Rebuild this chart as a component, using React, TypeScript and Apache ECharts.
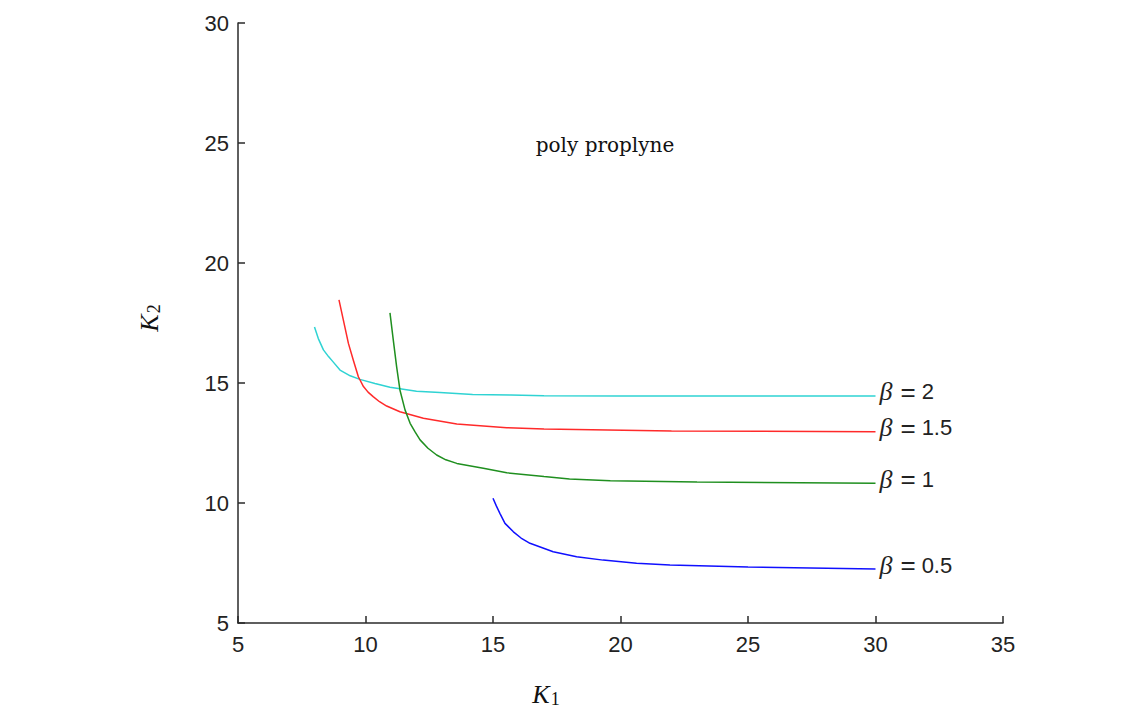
import React, { useEffect, useRef } from "react";
import * as echarts from "echarts";

const xTicks = [5, 10, 15, 20, 25, 30, 35];
const yTicks = [5, 10, 15, 20, 25, 30];

const betaLabels = ["2", "1.5", "1", "0.5"];
const seriesColors = ["#2fd3d3", "#ff2a2a", "#1f8f1f", "#1010ff"];

const k1Beta2 = [8, 8.15, 8.35, 8.55, 8.73, 9.0, 9.4, 9.78, 10.37, 10.96, 12.0, 12.92, 14.2, 15.7, 17.0, 20, 25, 30];
const k2Beta2 = [17.33, 16.85, 16.38, 16.1, 15.88, 15.54, 15.3, 15.15, 14.98, 14.82, 14.66, 14.6, 14.52, 14.5, 14.47, 14.46, 14.46, 14.46];

const k1Beta15 = [8.96, 9.13, 9.33, 9.52, 9.72, 9.92, 10.1, 10.3, 10.55, 10.83, 11.35, 12.27, 13.58, 15.54, 17.0, 22.0, 30];
const k2Beta15 = [18.46, 17.63, 16.65, 15.96, 15.26, 14.85, 14.62, 14.43, 14.22, 14.04, 13.8, 13.53, 13.29, 13.14, 13.08, 13.0, 12.97];

const k1Beta1 = [10.96, 11.09, 11.22, 11.35, 11.55, 11.75, 11.95, 12.14, 12.45, 12.79, 13.15, 13.58, 14.62, 15.54, 17.0, 18.0, 19.6, 23.0, 30];
const k2Beta1 = [17.92, 16.79, 15.68, 14.71, 13.88, 13.32, 12.95, 12.63, 12.28, 12.0, 11.8, 11.65, 11.45, 11.26, 11.1, 11.0, 10.93, 10.87, 10.82];

const k1Beta05 = [15.0, 15.13, 15.27, 15.47, 15.8, 16.1, 16.45, 17.36, 18.28, 19.32, 20.63, 21.94, 25, 30];
const k2Beta05 = [10.2, 9.88, 9.57, 9.15, 8.8, 8.54, 8.32, 7.97, 7.76, 7.62, 7.49, 7.42, 7.33, 7.25];

const chartTitle = "poly proplyne";

const seriesK1 = [k1Beta2, k1Beta15, k1Beta1, k1Beta05];
const seriesK2 = [k2Beta2, k2Beta15, k2Beta1, k2Beta05];

export default function App() {
  const ref = useRef<HTMLDivElement>(null);
  useEffect(() => {
    if (!ref.current) return;
    const chart = echarts.init(ref.current, null, { renderer: "svg" });
    const axisColor = "#2a2a2a";
    const series = betaLabels.map((b, i) => ({
      type: "line",
      name: "beta=" + b,
      showSymbol: false,
      symbol: "none",
      data: seriesK1[i].map((x, j) => [x, seriesK2[i][j]]),
      lineStyle: { color: seriesColors[i], width: 1.5 },
      itemStyle: { color: seriesColors[i] },
      endLabel: {
        show: true,
        distance: 4,
        offset: [0, -4],
        formatter: "{b|β}{e|=}{t|" + b + "}",
        rich: {
          b: { fontFamily: "Liberation Serif", fontStyle: "italic", fontSize: 26, color: "#222" },
          e: { fontFamily: "Liberation Sans", fontSize: 26, color: "#222", padding: [0, 6, 0, 8] },
          t: { fontFamily: "Liberation Sans", fontSize: 22, color: "#222" },
        },
      },
    }));
    chart.setOption({
      animation: false,
      backgroundColor: "#ffffff",
      grid: { left: 238, right: 140, top: 23, bottom: 87, containLabel: false },
      xAxis: {
        type: "value",
        min: xTicks[0],
        max: xTicks[xTicks.length - 1],
        interval: 5,
        axisLine: { show: true, lineStyle: { color: axisColor, width: 1.5 } },
        axisTick: { show: true, inside: true, length: 7, lineStyle: { color: axisColor, width: 1.5 } },
        axisLabel: { margin: 10, fontFamily: "Liberation Sans", fontSize: 22, color: "#222" },
        splitLine: { show: false },
      },
      yAxis: {
        type: "value",
        min: yTicks[0],
        max: yTicks[yTicks.length - 1],
        interval: 5,
        axisLine: { show: true, lineStyle: { color: axisColor, width: 1.5 } },
        axisTick: { show: true, inside: true, length: 7, lineStyle: { color: axisColor, width: 1.5 } },
        axisLabel: { margin: 9, fontFamily: "Liberation Sans", fontSize: 22, color: "#222" },
        splitLine: { show: false },
      },
      series,
      graphic: [
        {
          type: "text",
          x: 605,
          y: 145,
          style: {
            text: chartTitle,
            fontFamily: "DejaVu Serif",
            fontSize: 20,
            fill: "#111",
            align: "center",
            verticalAlign: "middle",
          },
        },
        {
          type: "text",
          x: 546,
          y: 694,
          style: {
            text: "{k|K}{s|1}",
            align: "center",
            verticalAlign: "middle",
            rich: {
              k: { fontFamily: "Liberation Serif", fontStyle: "italic", fontSize: 26, fill: "#111" },
              s: { fontFamily: "Liberation Serif", fontSize: 18, fill: "#111", padding: [10, 0, 0, 1] },
            },
          },
        },
        {
          type: "text",
          x: 149,
          y: 318,
          rotation: Math.PI / 2,
          style: {
            text: "{k|K}{s|2}",
            align: "center",
            verticalAlign: "middle",
            rich: {
              k: { fontFamily: "Liberation Serif", fontStyle: "italic", fontSize: 26, fill: "#111" },
              s: { fontFamily: "Liberation Serif", fontSize: 18, fill: "#111", padding: [10, 0, 0, 1] },
            },
          },
        },
      ],
    });
    return () => chart.dispose();
  }, []);
  return (
    <div
      ref={ref}
      style={{ position: "fixed", left: 0, top: 0, width: 1143, height: 710, background: "#fff" }}
    />
  );
}
